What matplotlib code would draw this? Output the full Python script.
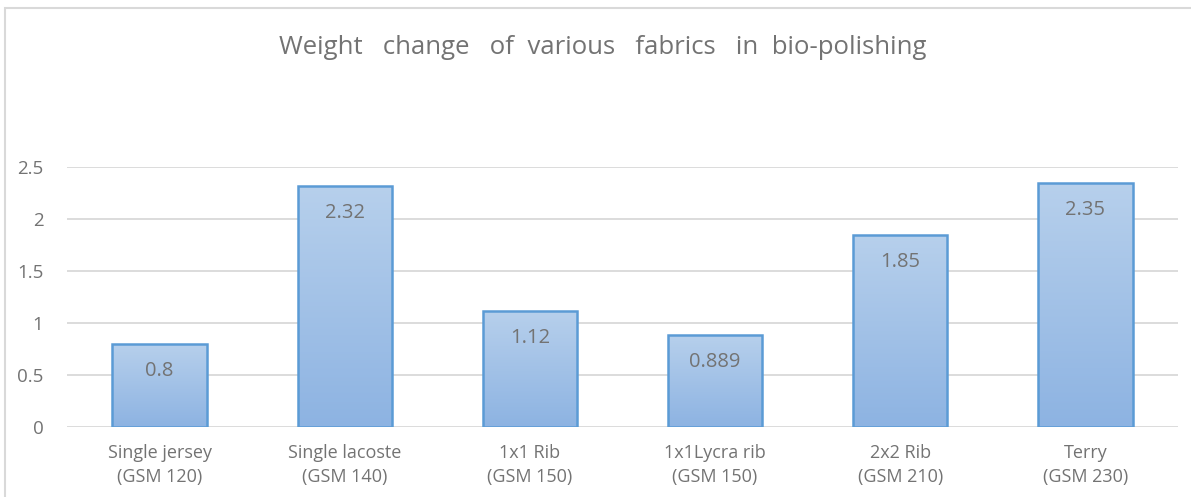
import numpy as np
import matplotlib.pyplot as plt
from matplotlib.patches import Rectangle
from matplotlib.colors import LinearSegmentedColormap

categories = ['Single jersey\n(GSM 120)', 'Single lacoste\n(GSM 140)', '1x1 Rib\n(GSM 150)',
              '1x1Lycra rib\n(GSM 150)', '2x2 Rib\n(GSM 210)', 'Terry\n(GSM 230)']
values = [0.8, 2.32, 1.12, 0.889, 1.85, 2.35]
labels = ['0.8', '2.32', '1.12', '0.889', '1.85', '2.35']
yticks = [0, 0.5, 1, 1.5, 2, 2.5]
ytick_labels = ['0', '0.5', '1', '1.5', '2', '2.5']

plt.rcParams['font.family'] = ['Open Sans', 'DejaVu Sans']
grey = '#737373'

fig = plt.figure(figsize=(11.91, 4.97), dpi=100)
ax = fig.add_axes([67 / 1191, 1 - 427 / 497, 1111 / 1191, 260 / 497])

x = np.arange(len(values))
bars = ax.bar(x, values, width=0.51, color='none', edgecolor='#5b9bd5', linewidth=1.8, zorder=3)

# вертикальный градиент внутри каждого столбика
grad = np.linspace(0, 1, 256).reshape(-1, 1)
cmap = LinearSegmentedColormap.from_list('g', ['#8db3e2', '#b7d0ec'])
for b in bars:
    x0, w, h = b.get_x(), b.get_width(), b.get_height()
    im = ax.imshow(grad, cmap=cmap, aspect='auto', origin='lower',
                   extent=[x0, x0 + w, 0, h], zorder=2)
    im.set_clip_path(b)

for xi, v, lab in zip(x, values, labels):
    ax.annotate(lab, (xi, v), xytext=(0, -27), textcoords='offset pixels',
                ha='center', va='center', fontsize=14.5, color=grey, zorder=4)

ax.set_xlim(-0.5, len(values) - 0.5)
ax.set_ylim(0, 2.5)
ax.set_yticks(yticks)
ax.set_yticklabels(ytick_labels, fontsize=13.5)
ax.set_xticks(x)
ax.set_xticklabels(categories, linespacing=1.45, fontsize=13)
ax.tick_params(axis='both', length=0, colors=grey)
ax.tick_params(axis='y', pad=17)
ax.tick_params(axis='x', pad=12)
ax.grid(axis='y', color='#d9d9d9', linewidth=1.3, zorder=0)
ax.set_axisbelow(True)
for s in ax.spines.values():
    s.set_visible(False)

fig.text(603 / 1191, 1 - 48 / 497, 'Weight   change   of  various   fabrics   in  bio-polishing',
         ha='center', va='center', fontsize=18.5, color=grey)

# рамка вокруг диаграммы
fig.add_artist(Rectangle((5 / 1191, -0.1), 1.2, 1 - 8 / 497 + 0.1, transform=fig.transFigure,
                         fill=False, edgecolor='#d9d9d9', linewidth=1.5))

fig.savefig('out.png', dpi=100)
